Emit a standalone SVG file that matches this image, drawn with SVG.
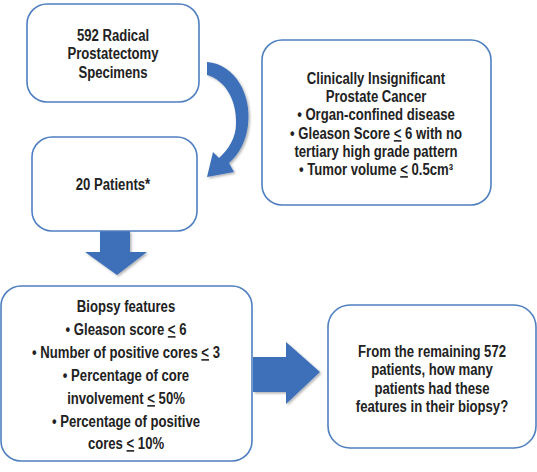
<svg xmlns="http://www.w3.org/2000/svg" width="537" height="472" viewBox="0 0 537 472">
<style>
.box{fill:#fff;stroke:#4f7fc0;stroke-width:1.6}
.arr{fill:#3d70b9}
text{font-family:"Liberation Sans",Arial,sans-serif;font-weight:bold;font-size:16px;fill:#222;text-anchor:middle}
.u{text-decoration:underline}
</style>
<defs>
<filter id="sh" x="-20%" y="-20%" width="150%" height="150%">
<feDropShadow dx="1.5" dy="1.5" stdDeviation="1.2" flood-color="#000" flood-opacity="0.3"/>
</filter>
</defs>
<g id="connectors">
<path class="arr" filter="url(#sh)" d="M207 62 C235 64 252 95 248 125 C246 142 239 154 229 163 L234 172 L207 177 L213 152 L219 158 C228 150 236 138 236 124 C237 100 225 80 207 75 Z"/>
<path class="arr" filter="url(#sh)" d="M100 231 L130 231 L130 252 L147 252 L117 275 L85 252 L100 252 Z"/>
<path class="arr" filter="url(#sh)" d="M253 357 L286 357 L286 342 L320 372 L286 404 L286 392 L253 392 Z"/>
</g>
<g id="n1">
<rect class="box" x="27" y="4" width="172" height="98" rx="20"/>
<g transform="translate(113 0) scale(0.82 1)">
<text x="0" y="41">592 Radical</text>
<text x="0" y="59">Prostatectomy</text>
<text x="0" y="78">Specimens</text>
</g>
</g>
<g id="n2">
<rect class="box" x="32" y="137" width="165" height="94" rx="20"/>
<g transform="translate(113 0) scale(0.82 1)">
<text x="0" y="190">20 Patients*</text>
</g>
</g>
<g id="n3">
<rect class="box" x="262" y="40" width="229" height="165" rx="20"/>
<g transform="translate(376 0) scale(0.82 1)">
<text x="0" y="84">Clinically Insignificant</text>
<text x="0" y="102">Prostate Cancer</text>
<text x="0" y="120">• Organ-confined disease</text>
<text x="0" y="139">• Gleason Score <tspan class="u">&lt;</tspan> 6 with no</text>
<text x="0" y="157">tertiary high grade pattern</text>
<text x="0" y="175">• Tumor volume <tspan class="u">&lt;</tspan> 0.5cm³</text>
</g>
</g>
<g id="n4">
<rect class="box" x="1" y="286" width="251" height="175" rx="20"/>
<g transform="translate(126 0) scale(0.82 1)">
<text x="0" y="312">Biopsy features</text>
<text x="0" y="335">• Gleason score <tspan class="u">&lt;</tspan> 6</text>
<text x="0" y="358">• Number of positive cores <tspan class="u">&lt;</tspan> 3</text>
<text x="0" y="381">• Percentage of core</text>
<text x="0" y="404">involvement <tspan class="u">&lt;</tspan> 50%</text>
<text x="0" y="427">• Percentage of positive</text>
<text x="0" y="449">cores <tspan class="u">&lt;</tspan> 10%</text>
</g>
</g>
<g id="n5">
<rect class="box" x="328" y="305" width="208" height="143" rx="22"/>
<g transform="translate(432 0) scale(0.82 1)">
<text x="0" y="357">From the remaining 572</text>
<text x="0" y="375">patients, how many</text>
<text x="0" y="394">patients had these</text>
<text x="0" y="412">features in their biopsy?</text>
</g>
</g>
</svg>
